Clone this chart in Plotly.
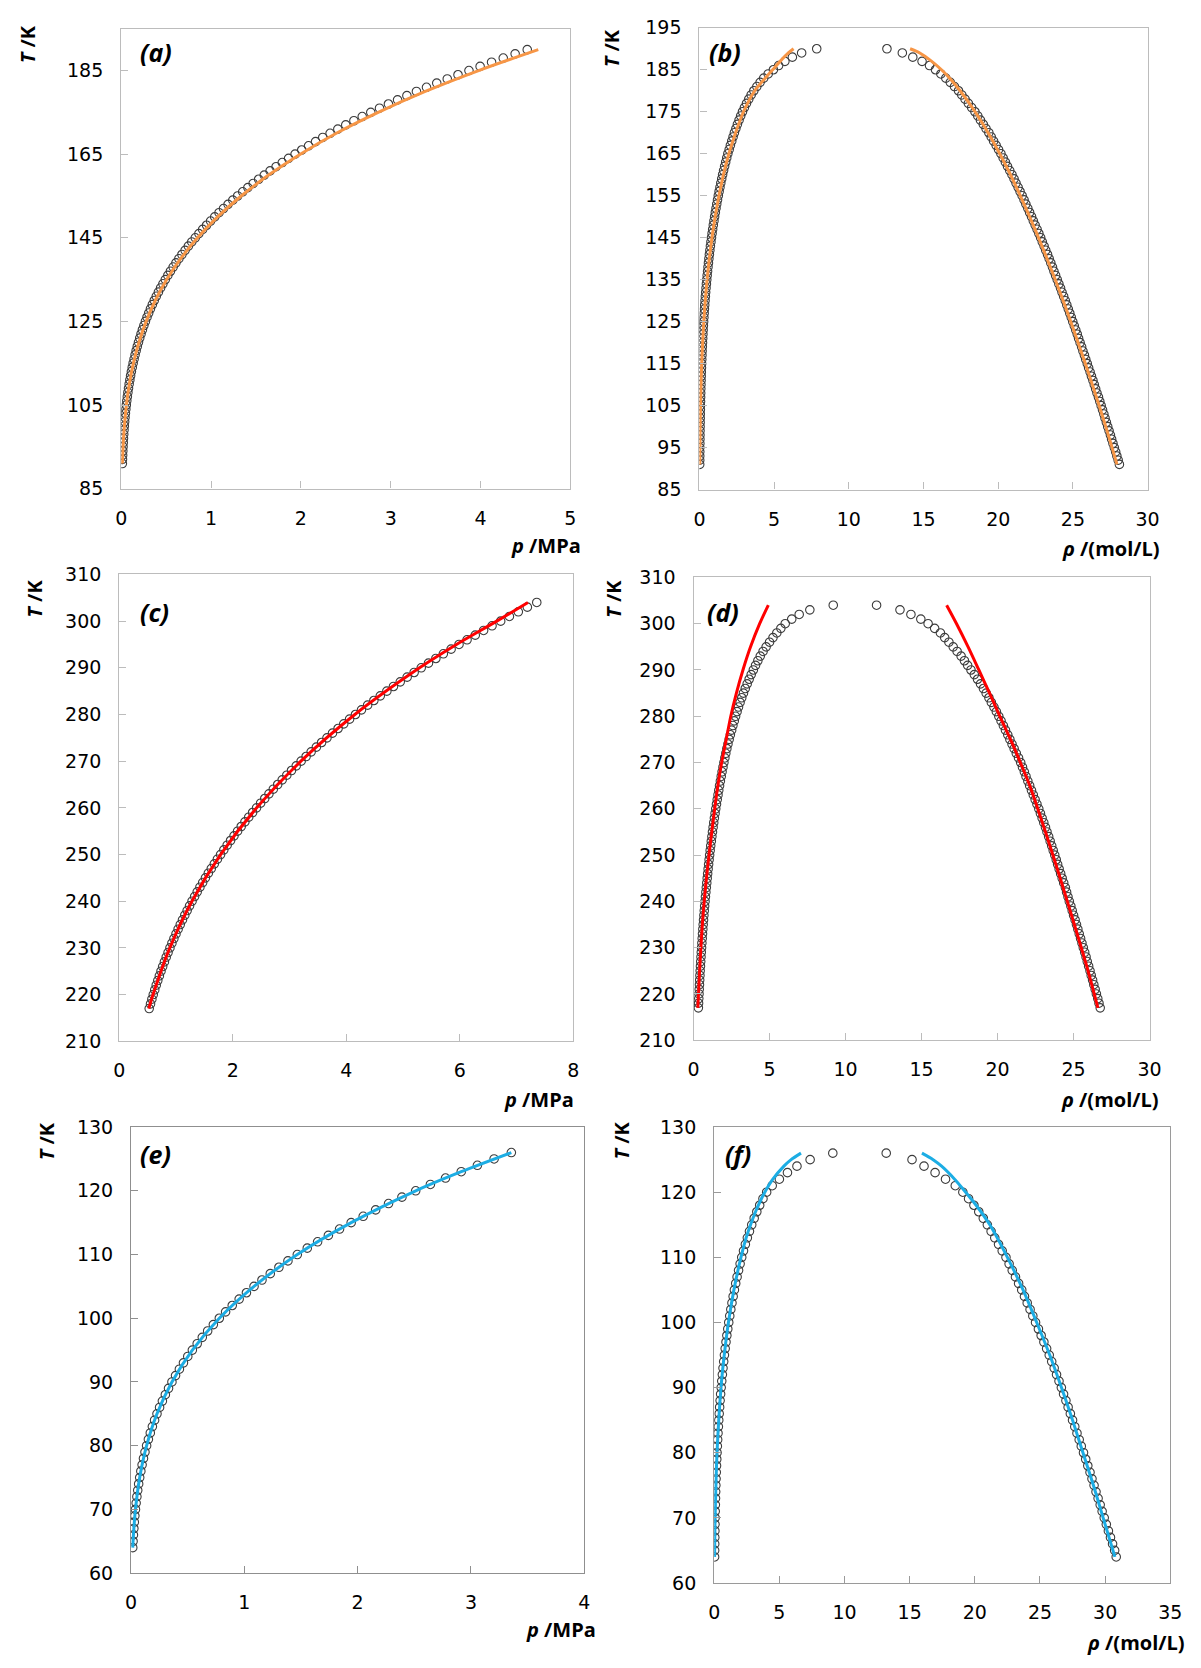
import plotly.graph_objects as go

# ---------------------------------------------------------------
# Saturation data (open circles) and model curves (solid lines)
# ---------------------------------------------------------------

# Methane: panels (a) and (b)
T_CH4 = [91, 92, 93, 94, 95, 96, 97, 98, 99, 100,
         101, 102, 103, 104, 105, 106, 107, 108, 109, 110,
         111, 112, 113, 114, 115, 116, 117, 118, 119, 120,
         121, 122, 123, 124, 125, 126, 127, 128, 129, 130,
         131, 132, 133, 134, 135, 136, 137, 138, 139, 140,
         141, 142, 143, 144, 145, 146, 147, 148, 149, 150,
         151, 152, 153, 154, 155, 156, 157, 158, 159, 160,
         161, 162, 163, 164, 165, 166, 167, 168, 169, 170,
         171, 172, 173, 174, 175, 176, 177, 178, 179, 180,
         181, 182, 183, 184, 185, 186, 187, 188, 189, 190]
p_CH4 = [0.0123, 0.0139, 0.0157, 0.0177, 0.0199, 0.0223, 0.0249, 0.0278, 0.0310, 0.0344,
         0.0381, 0.0421, 0.0465, 0.0512, 0.0563, 0.0618, 0.0677, 0.0740, 0.0808, 0.0881,
         0.0958, 0.1041, 0.1129, 0.1222, 0.1322, 0.1428, 0.1540, 0.1658, 0.1784, 0.1918,
         0.2056, 0.2202, 0.2357, 0.2518, 0.2689, 0.2868, 0.3055, 0.3252, 0.3458, 0.3673,
         0.3899, 0.4134, 0.4380, 0.4637, 0.4905, 0.5183, 0.5473, 0.5775, 0.6089, 0.6415,
         0.6754, 0.7105, 0.7469, 0.7847, 0.8238, 0.8643, 0.9062, 0.9495, 0.9942, 1.0405,
         1.0885, 1.1379, 1.1890, 1.2416, 1.2959, 1.3517, 1.4093, 1.4684, 1.5294, 1.5921,
         1.6570, 1.7237, 1.7923, 1.8627, 1.9350, 2.0091, 2.0851, 2.1631, 2.2430, 2.3247,
         2.4109, 2.4993, 2.5899, 2.6826, 2.7776, 2.8748, 2.9743, 3.0759, 3.1798, 3.2860,
         3.3980, 3.5121, 3.6292, 3.7487, 3.8706, 3.9948, 4.1224, 4.2522, 4.3847, 4.5195]
rhoV_CH4 = [0.0165, 0.0185, 0.0207, 0.0231, 0.0256, 0.0284, 0.0315, 0.0348, 0.0384, 0.0423,
            0.0465, 0.0510, 0.0558, 0.0609, 0.0664, 0.0723, 0.0786, 0.0853, 0.0924, 0.0999,
            0.1084, 0.1169, 0.1260, 0.1354, 0.1456, 0.1562, 0.1673, 0.1790, 0.1914, 0.2045,
            0.2181, 0.2324, 0.2476, 0.2632, 0.2797, 0.2970, 0.3148, 0.3336, 0.3531, 0.3734,
            0.3947, 0.4172, 0.4406, 0.4650, 0.4905, 0.5168, 0.5442, 0.5726, 0.6022, 0.6327,
            0.6645, 0.6982, 0.7330, 0.7693, 0.8068, 0.8456, 0.8859, 0.9275, 0.9705, 1.0150,
            1.0613, 1.1089, 1.1582, 1.2091, 1.2617, 1.3159, 1.3719, 1.4294, 1.4891, 1.5504,
            1.6161, 1.6839, 1.7541, 1.8264, 1.9011, 1.99, 2.07, 2.16, 2.25, 2.34,
            2.44, 2.54, 2.65, 2.76, 2.88, 3.01, 3.15, 3.30, 3.46, 3.64,
            3.84, 4.06, 4.30, 4.60, 4.95, 5.30, 5.72, 6.22, 6.84, 7.85]
rhoL_CH4 = [28.11, 28.03, 27.94, 27.86, 27.77, 27.68, 27.59, 27.51, 27.42, 27.33,
            27.24, 27.15, 27.07, 26.98, 26.89, 26.80, 26.71, 26.61, 26.52, 26.43,
            26.34, 26.24, 26.15, 26.05, 25.96, 25.86, 25.77, 25.67, 25.58, 25.48,
            25.38, 25.29, 25.19, 25.09, 24.99, 24.89, 24.79, 24.69, 24.59, 24.49,
            24.38, 24.27, 24.17, 24.06, 23.95, 23.84, 23.73, 23.63, 23.52, 23.41,
            23.30, 23.18, 23.07, 22.95, 22.84, 22.72, 22.60, 22.47, 22.35, 22.23,
            22.10, 21.98, 21.85, 21.73, 21.60, 21.46, 21.33, 21.19, 21.06, 20.92,
            20.77, 20.62, 20.48, 20.33, 20.18, 20.02, 19.86, 19.69, 19.53, 19.37,
            19.18, 19.00, 18.81, 18.63, 18.44, 18.22, 18.00, 17.78, 17.56, 17.34,
            17.07, 16.79, 16.49, 16.16, 15.80, 15.40, 14.90, 14.28, 13.58, 12.55]

Tm_CH4 = [91, 95, 100, 105, 110, 115, 120, 125, 130, 135, 140,
          145, 150, 155, 160, 165, 170, 175, 180, 185, 190]
pm_CH4 = [0.0125, 0.0204, 0.0351, 0.0576, 0.0902, 0.1356, 0.1972, 0.2770, 0.3786, 0.5058, 0.6612,
          0.8490, 1.0720, 1.3350, 1.6400, 1.9930, 2.3940, 2.8600, 3.3840, 3.9780, 4.6420]
Tmd_CH4 = [91, 100, 110, 120, 130, 140, 150, 160, 165, 170, 175, 180, 183, 185, 187, 189, 190]
rvm_CH4 = [0.02, 0.045, 0.105, 0.215, 0.39, 0.66, 1.05, 1.60, 1.97, 2.42, 2.95, 3.70, 4.40, 4.90, 5.40, 5.95, 6.30]
rlm_CH4 = [27.95, 27.20, 26.30, 25.35, 24.35, 23.27, 22.10, 20.82, 20.10, 19.32, 18.45, 17.45, 16.75, 16.20, 15.55, 14.75, 14.10]

# Carbon dioxide: panels (c) and (d)
T_CO2 = [217, 218, 219, 220, 221, 222, 223, 224, 225, 226,
         227, 228, 229, 230, 231, 232, 233, 234, 235, 236,
         237, 238, 239, 240, 241, 242, 243, 244, 245, 246,
         247, 248, 249, 250, 251, 252, 253, 254, 255, 256,
         257, 258, 259, 260, 261, 262, 263, 264, 265, 266,
         267, 268, 269, 270, 271, 272, 273, 274, 275, 276,
         277, 278, 279, 280, 281, 282, 283, 284, 285, 286,
         287, 288, 289, 290, 291, 292, 293, 294, 295, 296,
         297, 298, 299, 300, 301, 302, 303, 304]
p_CO2 = [0.5272, 0.5503, 0.5742, 0.5990, 0.6246, 0.6510, 0.6783, 0.7061, 0.7349, 0.7645,
         0.7951, 0.8266, 0.8592, 0.8925, 0.9270, 0.9625, 0.9990, 1.0362, 1.0744, 1.1138,
         1.1542, 1.1957, 1.2384, 1.2821, 1.3271, 1.3732, 1.4205, 1.4689, 1.5183, 1.5691,
         1.6211, 1.6743, 1.7288, 1.7847, 1.8420, 1.9006, 1.9606, 2.0217, 2.0843, 2.1482,
         2.2136, 2.2805, 2.3488, 2.4186, 2.4900, 2.5628, 2.6372, 2.7134, 2.7910, 2.8703,
         2.9512, 3.0338, 3.1177, 3.2036, 3.2913, 3.3804, 3.4715, 3.5644, 3.6594, 3.7561,
         3.8547, 3.9551, 4.0572, 4.1612, 4.2674, 4.3754, 4.4853, 4.5984, 4.7138, 4.8307,
         4.9500, 5.0713, 5.1945, 5.3196, 5.4472, 5.5773, 5.7094, 5.8458, 5.9854, 6.1271,
         6.2716, 6.4187, 6.5674, 6.7195, 6.8731, 7.0302, 7.1894, 7.3552]
rhoV_CO2 = [0.318, 0.331, 0.345, 0.360, 0.374, 0.390, 0.405, 0.421, 0.437, 0.455,
            0.472, 0.491, 0.509, 0.529, 0.549, 0.570, 0.591, 0.612, 0.634, 0.657,
            0.681, 0.705, 0.730, 0.756, 0.783, 0.811, 0.840, 0.870, 0.899, 0.929,
            0.960, 0.992, 1.025, 1.059, 1.094, 1.130, 1.169, 1.207, 1.246, 1.287,
            1.328, 1.371, 1.416, 1.462, 1.509, 1.558, 1.609, 1.659, 1.711, 1.765,
            1.820, 1.877, 1.936, 1.997, 2.060, 2.124, 2.191, 2.264, 2.343, 2.421,
            2.506, 2.589, 2.679, 2.767, 2.863, 2.958, 3.060, 3.172, 3.283, 3.403,
            3.528, 3.658, 3.793, 3.933, 4.079, 4.231, 4.389, 4.573, 4.776, 5.000,
            5.226, 5.477, 5.743, 6.030, 6.460, 6.950, 7.650, 9.190]
rhoL_CO2 = [26.75, 26.67, 26.59, 26.50, 26.42, 26.33, 26.25, 26.16, 26.08, 25.99,
            25.90, 25.82, 25.73, 25.64, 25.55, 25.46, 25.37, 25.28, 25.19, 25.10,
            25.00, 24.91, 24.82, 24.72, 24.63, 24.54, 24.46, 24.35, 24.25, 24.15,
            24.05, 23.95, 23.86, 23.76, 23.66, 23.56, 23.46, 23.36, 23.25, 23.15,
            23.04, 22.93, 22.82, 22.71, 22.59, 22.47, 22.35, 22.23, 22.11, 21.99,
            21.87, 21.76, 21.64, 21.52, 21.38, 21.23, 21.09, 20.95, 20.81, 20.67,
            20.52, 20.38, 20.23, 20.08, 19.92, 19.76, 19.59, 19.43, 19.25, 19.07,
            18.88, 18.68, 18.47, 18.25, 18.03, 17.82, 17.60, 17.34, 17.08, 16.80,
            16.52, 16.24, 15.86, 15.43, 14.95, 14.30, 13.58, 12.04]

Tm_CO2 = [217, 220, 230, 240, 250, 260, 270, 280, 290, 295, 300, 304]
pm_CO2 = [0.52, 0.595, 0.89, 1.28, 1.785, 2.42, 3.20, 4.15, 5.29, 5.94, 6.65, 7.20]
Tmd_CO2 = [217, 225, 235, 245, 255, 265, 270, 275, 280, 285, 290, 295, 300, 304]
rvm_CO2 = [0.28, 0.40, 0.58, 0.85, 1.20, 1.60, 1.85, 2.15, 2.45, 2.82, 3.25, 3.75, 4.35, 4.92]
rlm_CO2 = [26.60, 25.95, 25.05, 24.12, 23.15, 22.12, 21.50, 20.85, 20.15, 19.47, 18.77, 18.06, 17.30, 16.65]

# Nitrogen: panels (e) and (f)
T_N2 = [64, 65, 66, 67, 68, 69, 70, 71, 72, 73,
        74, 75, 76, 77, 78, 79, 80, 81, 82, 83,
        84, 85, 86, 87, 88, 89, 90, 91, 92, 93,
        94, 95, 96, 97, 98, 99, 100, 101, 102, 103,
        104, 105, 106, 107, 108, 109, 110, 111, 112, 113,
        114, 115, 116, 117, 118, 119, 120, 121, 122, 123,
        124, 125, 126]
p_N2 = [0.01458, 0.01736, 0.02057, 0.02424, 0.02843, 0.03317, 0.03855, 0.04448, 0.05112, 0.05853,
        0.06676, 0.07589, 0.08598, 0.09713, 0.1093, 0.1225, 0.1370, 0.1526, 0.1694, 0.1877,
        0.2074, 0.2286, 0.2515, 0.2761, 0.3024, 0.3305, 0.3605, 0.3924, 0.4262, 0.4622,
        0.5003, 0.5407, 0.5834, 0.6284, 0.6760, 0.7261, 0.7788, 0.8344, 0.8928, 0.9540,
        1.0182, 1.0852, 1.1553, 1.2286, 1.3050, 1.3846, 1.4673, 1.5552, 1.6466, 1.7416,
        1.8402, 1.9428, 2.0489, 2.1589, 2.2728, 2.3907, 2.5125, 2.6421, 2.7759, 2.9145,
        3.0572, 3.2046, 3.3567]
rhoV_N2 = [0.0277, 0.0325, 0.0379, 0.0440, 0.0509, 0.0586, 0.0676, 0.0771, 0.0877, 0.0993,
           0.1121, 0.1261, 0.1414, 0.1582, 0.1763, 0.1957, 0.2168, 0.2395, 0.2638, 0.2900,
           0.3180, 0.3478, 0.3803, 0.4149, 0.4517, 0.4909, 0.5323, 0.5769, 0.6240, 0.6739,
           0.7267, 0.7824, 0.8411, 0.9040, 0.9703, 1.0403, 1.1138, 1.1915, 1.2730, 1.3603,
           1.4520, 1.5481, 1.6490, 1.7549, 1.8681, 1.9869, 2.1112, 2.2469, 2.3896, 2.5429,
           2.7042, 2.8782, 3.0657, 3.2686, 3.4890, 3.7407, 4.0229, 4.45, 5.00, 5.62,
           6.35, 7.36, 9.10]
rhoL_N2 = [30.85, 30.73, 30.57, 30.41, 30.25, 30.09, 29.93, 29.77, 29.62, 29.46,
           29.30, 29.15, 28.99, 28.84, 28.67, 28.51, 28.34, 28.17, 28.01, 27.84,
           27.67, 27.50, 27.33, 27.16, 26.99, 26.81, 26.64, 26.46, 26.27, 26.09,
           25.90, 25.71, 25.51, 25.30, 25.09, 24.88, 24.66, 24.45, 24.24, 24.02,
           23.81, 23.60, 23.36, 23.12, 22.87, 22.63, 22.39, 22.10, 21.82, 21.53,
           21.25, 20.96, 20.65, 20.30, 19.93, 19.52, 19.08, 18.50, 17.75, 16.95,
           16.10, 15.18, 13.20]

Tm_N2 = [64, 66, 70, 75, 80, 85, 90, 95, 100, 105, 110, 115, 120, 123, 126]
pm_N2 = [0.0146, 0.0206, 0.0386, 0.0759, 0.137, 0.2286, 0.3605, 0.5407, 0.7788, 1.0852,
         1.4673, 1.9428, 2.5125, 2.9145, 3.3567]
Tmv_N2 = [64, 70, 80, 90, 95, 100, 105, 110, 113, 115, 117, 119, 120, 122, 124, 125, 126]
rvm_N2 = [0.028, 0.068, 0.215, 0.52, 0.77, 1.09, 1.51, 2.05, 2.45, 2.79, 3.17, 3.62, 3.88, 4.50, 5.35, 5.90, 6.66]
Tml_N2 = [64, 70, 75, 80, 85, 90, 95, 100, 105, 110, 115, 118, 120, 122, 124, 125, 126]
rlm_N2 = [30.75, 29.85, 29.10, 28.30, 27.50, 26.65, 25.75, 24.75, 23.70, 22.50, 21.15, 20.10, 19.30, 18.45, 17.45, 16.80, 15.94]

# Axis ticks
xt_a = [0, 1, 2, 3, 4, 5]
yt_a = [85, 105, 125, 145, 165, 185]
xt_b = [0, 5, 10, 15, 20, 25, 30]
yt_b = [85, 95, 105, 115, 125, 135, 145, 155, 165, 175, 185, 195]
xt_c = [0, 2, 4, 6, 8]
yt_cd = [210, 220, 230, 240, 250, 260, 270, 280, 290, 300, 310]
xt_d = [0, 5, 10, 15, 20, 25, 30]
xt_e = [0, 1, 2, 3, 4]
yt_ef = [60, 70, 80, 90, 100, 110, 120, 130]
xt_f = [0, 5, 10, 15, 20, 25, 30, 35]

# ---------------------------------------------------------------
# Layout geometry (page pixels)
# ---------------------------------------------------------------
W, H = 1201, 1668


def fx(px):
    return px / W


def fy(py):
    return 1 - py / H


FONT = "Open Sans"
TICKFONT = "DejaVu Sans"
TXT = "#000000"
ORANGE = "#F79646"
RED = "#FF0000"
BLUE = "#1CADE4"

# plot-area boxes: left, right, top, bottom
boxes = {
    "a": (117, 573, 18, 484),
    "b": (704, 1159, 17, 485),
    "c": (115, 576, 571, 1044),
    "d": (698, 1161, 574, 1043),
    "e": (127, 587, 1131, 1583),
    "f": (719, 1182, 1131, 1593),
}
axis_specs = {
    "a": dict(xr=[0, 5], xt=xt_a, yr=[85, 195], yt=yt_a, frame="#bcbcbc"),
    "b": dict(xr=[0, 30], xt=xt_b, yr=[85, 195], yt=yt_b, frame="#bcbcbc"),
    "c": dict(xr=[0, 8], xt=xt_c, yr=[210, 310], yt=yt_cd, frame="#bcbcbc"),
    "d": dict(xr=[0, 30], xt=xt_d, yr=[210, 310], yt=yt_cd, frame="#bcbcbc"),
    "e": dict(xr=[0, 4], xt=xt_e, yr=[60, 130], yt=yt_ef, frame="#8f8f8f"),
    "f": dict(xr=[0, 35], xt=xt_f, yr=[60, 130], yt=yt_ef, frame="#9a9a9a"),
}

fig = go.Figure()
layout = {}
order = ["a", "b", "c", "d", "e", "f"]
for i, key in enumerate(order):
    n = "" if i == 0 else str(i + 1)
    l, r, t, b = boxes[key]
    s = axis_specs[key]
    common = dict(
        showline=True, linecolor=s["frame"], linewidth=1.3, mirror=True,
        showgrid=False, zeroline=False,
        ticks="inside", ticklen=7, tickwidth=1, tickcolor=s["frame"],
        tickfont=dict(family=TICKFONT, size=19, color=TXT),
        fixedrange=True,
    )
    layout["xaxis" + n] = dict(
        domain=[fx(l), fx(r)], range=s["xr"], tickvals=s["xt"],
        anchor="y" + n, ticklabelstandoff=12, **common)
    layout["yaxis" + n] = dict(
        domain=[fy(b), fy(t)], range=s["yr"], tickvals=s["yt"],
        anchor="x" + n, ticklabelstandoff=13, **common)


def circles(x, y, n):
    return go.Scatter(
        x=x, y=y, mode="markers", xaxis="x" + n, yaxis="y" + n,
        marker=dict(symbol="circle-open", size=8.5, color="#3c3c3c",
                    line=dict(width=1.1, color="#3c3c3c")),
        showlegend=False, hoverinfo="skip")


def curve(x, y, n, color):
    return go.Scatter(
        x=x, y=y, mode="lines", xaxis="x" + n, yaxis="y" + n,
        line=dict(color=color, width=3, shape="spline", smoothing=0.8),
        showlegend=False, hoverinfo="skip")


# (a) methane p-T
fig.add_trace(circles(p_CH4, T_CH4, ""))
fig.add_trace(curve(pm_CH4, Tm_CH4, "", ORANGE))
# (b) methane rho-T
fig.add_trace(circles(rhoV_CH4, T_CH4, "2"))
fig.add_trace(circles(rhoL_CH4, T_CH4, "2"))
fig.add_trace(curve(rvm_CH4, Tmd_CH4, "2", ORANGE))
fig.add_trace(curve(rlm_CH4, Tmd_CH4, "2", ORANGE))
# (c) carbon dioxide p-T
fig.add_trace(circles(p_CO2, T_CO2, "3"))
fig.add_trace(curve(pm_CO2, Tm_CO2, "3", RED))
# (d) carbon dioxide rho-T
fig.add_trace(circles(rhoV_CO2, T_CO2, "4"))
fig.add_trace(circles(rhoL_CO2, T_CO2, "4"))
fig.add_trace(curve(rvm_CO2, Tmd_CO2, "4", RED))
fig.add_trace(curve(rlm_CO2, Tmd_CO2, "4", RED))
# (e) nitrogen p-T
fig.add_trace(circles(p_N2, T_N2, "5"))
fig.add_trace(curve(pm_N2, Tm_N2, "5", BLUE))
# (f) nitrogen rho-T
fig.add_trace(circles(rhoV_N2, T_N2, "6"))
fig.add_trace(circles(rhoL_N2, T_N2, "6"))
fig.add_trace(curve(rvm_N2, Tmv_N2, "6", BLUE))
fig.add_trace(curve(rlm_N2, Tml_N2, "6", BLUE))

# ---------------------------------------------------------------
# Text: panel tags and axis titles
# ---------------------------------------------------------------
annotations = []


def label(text, px, py, size=20, angle=0, xanchor="center"):
    annotations.append(dict(
        text=text, x=fx(px), y=fy(py), xref="paper", yref="paper",
        xanchor=xanchor, yanchor="middle", showarrow=False, textangle=angle,
        font=dict(family=FONT, size=size, color=TXT)))


tags = {"a": (152, 42), "b": (730, 42), "c": (151, 609),
        "d": (728, 609), "e": (152, 1158), "f": (743, 1158)}
for key, (px, py) in tags.items():
    label("<b><i>(%s)</i></b>" % key, px, py, size=25)

T_title = "<b><i>T</i> /K</b>"
for px, py in [(22, 34), (615, 38), (29, 596), (616, 596), (42, 1145), (625, 1145)]:
    label(T_title, px, py, size=20, angle=-90)

p_title = "<b><i>p</i> /MPa</b>"
rho_title = "<b><i>ρ</i> /(mol/L)</b>"
label(p_title, 548, 542, size=20)
label(rho_title, 1122, 545, size=20)
label(p_title, 541, 1103, size=20)
label(rho_title, 1121, 1103, size=20)
label(p_title, 563, 1640, size=20)
label(rho_title, 1147, 1653, size=20)

layout.update(
    width=W, height=H,
    margin=dict(l=0, r=0, t=0, b=0),
    paper_bgcolor="white", plot_bgcolor="white",
    showlegend=False,
    annotations=annotations,
)
fig.update_layout(**layout)

fig.write_html("out.html", config={"displayModeBar": False})
